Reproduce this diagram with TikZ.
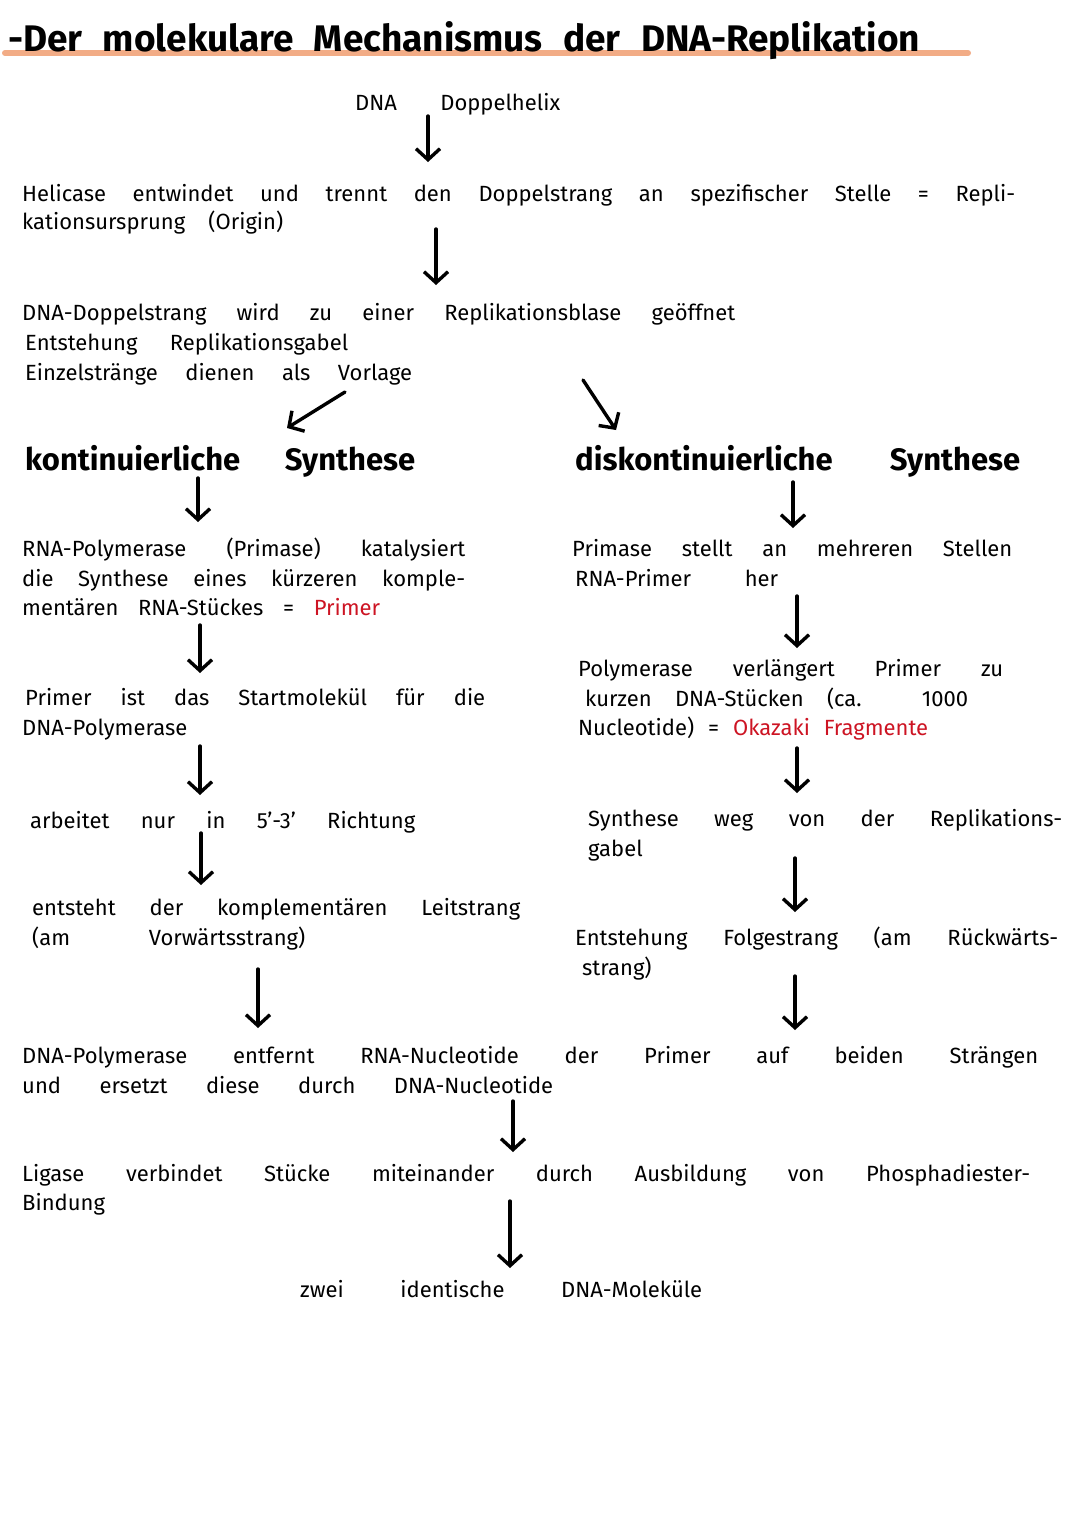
\documentclass[tikz,border=0pt]{standalone}
\usepackage{fontspec}
\setmainfont{Fira Sans}
\usetikzlibrary{arrows.meta}
\definecolor{hl}{RGB}{242,172,134}
\definecolor{rd}{RGB}{205,20,35}
\tikzset{
  txt/.style={anchor=base west, inner sep=0pt, font=\fontsize{22}{26}\selectfont},
  head/.style={anchor=base west, inner sep=0pt, font=\fontsize{31}{36}\selectfont\bfseries},
  ttl/.style={anchor=base west, inner sep=0pt, font=\fontsize{37}{42}\selectfont\bfseries},
  flow/.style={line width=3.4pt, line cap=round, -{Straight Barb[length=11pt,width=24pt]}},
  uline/.style={line width=6pt, line cap=round, draw=hl},
}
\newcommand{\sline}[2]{\makebox[#1pt][s]{#2}}
\begin{document}
\begin{tikzpicture}[x=1pt,y=-1pt]
\useasboundingbox (0,0) rectangle (1080,1527);
\fill[white] (0,0) rectangle (1080,1527);
% title
\coordinate (ulA) at (5,53);
\coordinate (ulB) at (968,53);
\draw[uline] (ulA) -- (ulB);
\node[ttl] (title) at (8,51) {\sline{912}{-Der molekulare Mechanismus der DNA-Replikation}};
% top chain
\node[txt] (dh) at (355,110) {\sline{205}{DNA Doppelhelix}};
\node[txt] (hel1) at (22,201) {\sline{993}{Helicase entwindet und trennt den Doppelstrang an spezifischer Stelle = Repli-}};
\node[txt] (hel2) at (22,229) {\sline{261}{kationsursprung (Origin)}};
\node[txt] (dop1) at (22,320) {\sline{713}{DNA-Doppelstrang wird zu einer Replikationsblase geöffnet}};
\node[txt] (dop2) at (25,350) {\sline{323}{Entstehung Replikationsgabel}};
\node[txt] (dop3) at (25,380) {\sline{387}{Einzelstränge dienen als Vorlage}};
% headings
\node[head] (kont) at (25,470) {\sline{390}{kontinuierliche Synthese}};
\node[head] (disk) at (575,470) {\sline{445}{diskontinuierliche Synthese}};
% left column
\node[txt] (l1a) at (22,556) {\sline{443}{RNA-Polymerase (Primase) katalysiert}};
\node[txt] (l1b) at (22,586) {\sline{443}{die Synthese eines kürzeren komple-}};
\node[txt] (l1c) at (22,615) {\sline{358}{mentären RNA-Stückes = \textcolor{rd}{Primer}}};
\node[txt] (l2a) at (25,705) {\sline{460}{Primer ist das Startmolekül für die}};
\node[txt] (l2b) at (22,735) {DNA-Polymerase};
\node[txt] (l3) at (30,828) {\sline{385}{arbeitet nur in 5'-3' Richtung}};
\node[txt] (l4a) at (32,915) {\sline{488}{entsteht der komplementären Leitstrang}};
\node[txt] (l4b) at (32,945) {\sline{273}{(am Vorwärtsstrang)}};
% right column
\node[txt] (r1a) at (572,556) {\sline{440}{Primase stellt an mehreren Stellen}};
\node[txt] (r1b) at (575,586) {\sline{203}{RNA-Primer her}};
\node[txt] (r2a) at (578,676) {\sline{425}{Polymerase verlängert Primer zu}};
\node[txt] (r2b) at (585,706) {\sline{383}{kurzen DNA-Stücken (ca. 1000}};
\node[txt] (r2c) at (578,735) {\sline{350}{Nucleotide) = \textcolor{rd}{Okazaki Fragmente}}};
\node[txt] (r3a) at (588,826) {\sline{474}{Synthese weg von der Replikations-}};
\node[txt] (r3b) at (588,856) {gabel};
\node[txt] (r4a) at (575,945) {\sline{483}{Entstehung Folgestrang (am Rückwärts-}};
\node[txt] (r4b) at (582,975) {strang)};
% bottom
\node[txt] (b1) at (22,1063) {\sline{1016}{DNA-Polymerase entfernt RNA-Nucleotide der Primer auf beiden Strängen}};
\node[txt] (b2) at (22,1093) {\sline{531}{und ersetzt diese durch DNA-Nucleotide}};
\node[txt] (lg1) at (22,1181) {\sline{1008}{Ligase verbindet Stücke miteinander durch Ausbildung von Phosphadiester-}};
\node[txt] (lg2) at (22,1210) {Bindung};
\node[txt] (fin) at (300,1297) {\sline{402}{zwei identische DNA-Moleküle}};
% arrow end points
\coordinate (a1s) at (428,116);  \coordinate (a1e) at (428,162);
\coordinate (a2s) at (436,229);  \coordinate (a2e) at (436,285);
\coordinate (a3s) at (345,392);  \coordinate (a3e) at (287,428);
\coordinate (a4s) at (583,380);  \coordinate (a4e) at (616,430);
\coordinate (a5s) at (198,478);  \coordinate (a5e) at (198,522);
\coordinate (a6s) at (793,482);  \coordinate (a6e) at (793,528);
\coordinate (a7s) at (200,625);  \coordinate (a7e) at (200,673);
\coordinate (a8s) at (797,596);  \coordinate (a8e) at (797,648);
\coordinate (a9s) at (200,746);  \coordinate (a9e) at (200,795);
\coordinate (a10s) at (797,748); \coordinate (a10e) at (797,793);
\coordinate (a11s) at (201,833); \coordinate (a11e) at (201,885);
\coordinate (a12s) at (795,858); \coordinate (a12e) at (795,912);
\coordinate (a13s) at (258,969); \coordinate (a13e) at (258,1028);
\coordinate (a14s) at (795,976); \coordinate (a14e) at (795,1030);
\coordinate (a15s) at (513,1101);\coordinate (a15e) at (513,1152);
\coordinate (a16s) at (510,1201);\coordinate (a16e) at (510,1268);
\foreach \i in {1,...,16} {\draw[flow] (a\i s) -- (a\i e);}
\end{tikzpicture}
\end{document}
